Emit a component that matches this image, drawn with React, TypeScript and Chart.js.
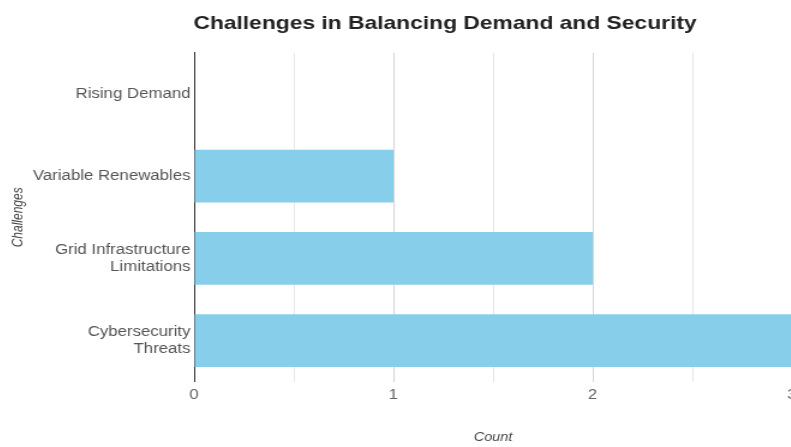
import { useEffect, useRef } from "react";
import { Chart, registerables } from "chart.js";

Chart.register(...registerables);

// Challenge categories (multi-line labels are arrays of lines)
const challengeLabels: string[][] = [
  ["Rising Demand"],
  ["Variable Renewables"],
  ["Grid Infrastructure", "Limitations"],
  ["Cybersecurity", "Threats"],
];

// Number of mentions per challenge
const challengeCounts: number[] = [0, 1, 2, 3];

// Axis range and step of the count axis
const countMin = 0;
const countMax = 3;
const countStep = 0.5;

const chartTitle = "Challenges in Balancing Demand and Security";
const xAxisTitle = "Count";
const yAxisTitle = "Challenges";

const FONT = "'Liberation Sans', Arial, Helvetica, sans-serif";

// Drawing surface (backing pixels) and its on-page display size
const BACK_W = 728;
const BACK_H = 439;
const CSS_W = 874;

export default function App() {
  const canvasRef = useRef<HTMLCanvasElement | null>(null);

  useEffect(() => {
    const canvas = canvasRef.current;
    if (!canvas) return;

    const chart = new Chart(canvas, {
      type: "bar",
      data: {
        labels: challengeLabels.map((l) => (l.length === 1 ? l[0] : l)),
        datasets: [
          {
            label: "Count",
            data: challengeCounts,
            backgroundColor: "#87CEEB",
            borderWidth: 0,
            barPercentage: 0.8,
            categoryPercentage: 0.8,
          },
        ],
      },
      options: {
        indexAxis: "y",
        responsive: false,
        animation: false,
        devicePixelRatio: 1,
        layout: { padding: 0 },
        plugins: {
          legend: { display: false },
          tooltip: { enabled: false },
          title: {
            display: true,
            text: chartTitle,
            color: "#222",
            font: { family: FONT, size: 19, weight: "bold" },
            padding: { top: 4, bottom: 18 },
          },
        },
        scales: {
          x: {
            type: "linear",
            min: countMin,
            max: countMax,
            grid: {
              display: true,
              drawTicks: false,
              color: (ctx: any) =>
                ctx.tick && Number.isInteger(ctx.tick.value) ? "#d4d4d4" : "#e6e6e6",
              lineWidth: 1,
            },
            border: { display: false },
            ticks: {
              stepSize: countStep,
              padding: 5,
              color: "#666",
              font: { family: FONT, size: 14 },
              callback: (v: any) => (Number.isInteger(Number(v)) ? String(v) : ""),
            },
            title: {
              display: true,
              text: xAxisTitle,
              color: "#444",
              font: { family: FONT, size: 12, style: "italic" },
              padding: { top: 22, bottom: 2 },
            },
          },
          y: {
            grid: { display: false, drawTicks: false },
            border: { display: true, color: "#333", width: 1 },
            ticks: {
              padding: 3,
              color: "#555",
              font: { family: FONT, size: 14 },
            },
            title: {
              display: true,
              text: yAxisTitle,
              color: "#444",
              font: { family: FONT, size: 12, style: "italic" },
              padding: { top: 1, bottom: 4 },
            },
            afterFit: (scale: any) => {
              scale.width = 155;
            },
          },
          // empty right-hand gutter so the plot ends short of the canvas edge
          yGutter: {
            type: "category",
            position: "right",
            display: true,
            grid: { display: false, drawTicks: false },
            border: { display: false },
            ticks: { display: false },
            afterFit: (scale: any) => {
              scale.width = 75;
            },
          },
        },
      },
    });

    return () => chart.destroy();
  }, []);

  return (
    <div
      style={{
        position: "absolute",
        left: 0,
        top: 0,
        width: 791,
        height: 447,
        overflow: "hidden",
        background: "#fff",
      }}
    >
      <canvas
        ref={canvasRef}
        width={BACK_W}
        height={BACK_H}
        style={{
          position: "absolute",
          left: 8,
          top: 8,
          width: `${CSS_W}px`,
          height: `${BACK_H}px`,
        }}
      />
    </div>
  );
}
